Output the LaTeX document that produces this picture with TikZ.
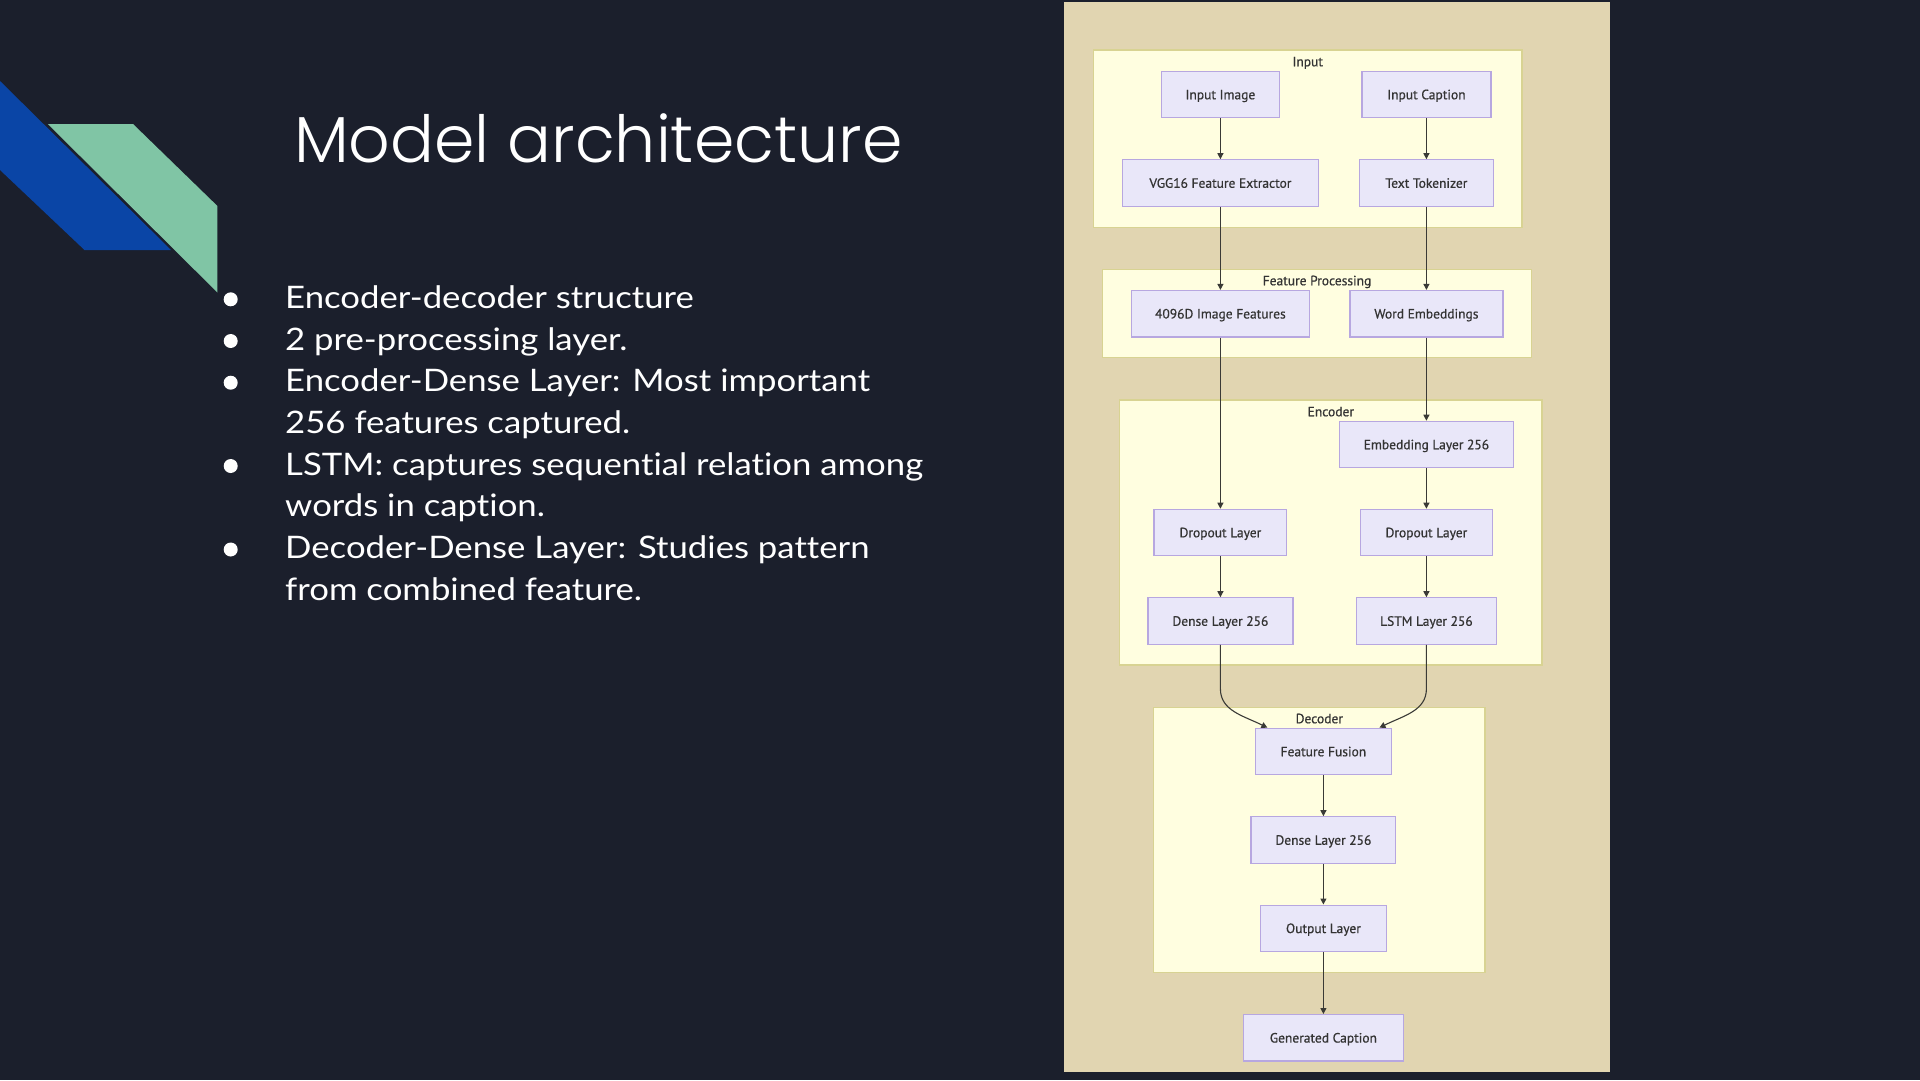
\documentclass[tikz,border=0pt]{standalone}
\usepackage{fontspec}
\setmainfont{Lato}
\newfontfamily\bodyfont{Lato}[FakeStretch=1.12, Ligatures=NoCommon]
\newfontfamily\titlefont{Poppins}[UprightFont={* Light}]
\newfontfamily\nodefont{PT Sans}[FakeBold=0.6]
\usetikzlibrary{arrows.meta,calc}
\definecolor{bg}{HTML}{1B1F2C}
\definecolor{decoblue}{HTML}{0A45A6}
\definecolor{decogreen}{HTML}{80C5A5}
\definecolor{panel}{HTML}{E1D5B1}
\definecolor{clfill}{HTML}{FFFEE0}
\definecolor{clstroke}{HTML}{D8D392}
\definecolor{nodefill}{HTML}{E9E7F9}
\definecolor{nodestroke}{HTML}{B7A7E0}
\definecolor{nodetext}{HTML}{333333}
\definecolor{edgecol}{HTML}{3A3A36}
\begin{document}
\begin{tikzpicture}[x=1pt,y=-1pt,
  box/.style={draw=nodestroke, fill=nodefill, line width=1.2pt, minimum height=46.4pt,
    inner sep=0pt, text height=9.5pt, text depth=0pt,
    font=\nodefont\fontsize{13.5}{16}\selectfont, text=nodetext},
  cluster/.style={draw=clstroke, fill=clfill, line width=1.5pt, inner sep=0pt},
  cllabel/.style={font=\nodefont\fontsize{13.5}{16}\selectfont, text=nodetext, inner sep=0pt,
    text height=9.5pt, text depth=0pt},
  edge/.style={draw=edgecol, line width=1.1pt, -{Triangle[length=6pt,width=6pt]}},
  bullettext/.style={anchor=base west, inner sep=0pt, text=white, font=\bodyfont\fontsize{31}{38}\selectfont},
  bulletdot/.style={fill=white}
]
\useasboundingbox (0,0) rectangle (1920,1080);
\fill[bg] (0,0) rectangle (1920,1080);

% decoration
\fill[decoblue] (0,81) -- (171,250) -- (84.5,250) -- (0,170) -- cycle;
\fill[decogreen] (47.8,124) -- (133,124) -- (217.4,206) -- (217.4,292.5) -- cycle;

% title
\node[anchor=base west, inner sep=0pt, text=white, font=\titlefont\fontsize{65}{78}\selectfont] (title) at (294,162.7) {Model architecture};

% bullets
\fill[bulletdot] (230.7,299.3) circle (7);
\fill[bulletdot] (230.7,341) circle (7);
\fill[bulletdot] (230.7,382.7) circle (7);
\fill[bulletdot] (230.7,466) circle (7);
\fill[bulletdot] (230.7,549.5) circle (7);
\node[bullettext] (b1) at (285,308.3) {Encoder-decoder structure};
\node[bullettext] (b2) at (285,350) {2 pre-processing layer.};
\node[bullettext] (b3) at (285,391.7) {Encoder-Dense Layer: Most important};
\node[bullettext] (b4) at (285,433.4) {256 features captured.};
\node[bullettext] (b5) at (285,475) {LSTM: captures sequential relation among};
\node[bullettext] (b6) at (285,516.8) {words in caption.};
\node[bullettext] (b7) at (285,558.5) {Decoder-Dense Layer: Studies pattern};
\node[bullettext] (b8) at (285,600.2) {from combined feature.};

% diagram panel
\fill[panel] (1064,2) rectangle (1610,1072);

% clusters
\node[cluster, minimum width=428.2pt, minimum height=177.3pt] (cin) at (1307.7,138.65) {};
\node[cluster, minimum width=428.9pt, minimum height=88.4pt] (cfp) at (1316.95,313.5) {};
\node[cluster, minimum width=422.4pt, minimum height=265pt] (cenc) at (1330.8,532.5) {};
\node[cluster, minimum width=331.4pt, minimum height=265.2pt] (cdec) at (1319.3,840.1) {};
\node[cllabel] (lin) at (1307.7,61.5) {Input};
\node[cllabel] (lfp) at (1317,280.5) {Feature Processing};
\node[cllabel] (lenc) at (1330.8,411.5) {Encoder};
\node[cllabel] (ldec) at (1319.3,718.5) {Decoder};

% nodes
\node[box, minimum width=118.6pt] (inimg) at (1220.4,94.5) {Input Image};
\node[box, minimum width=129pt] (incap) at (1426.4,94.5) {Input Caption};
\node[box, minimum width=196pt] (vgg) at (1220.4,183) {VGG16 Feature Extractor};
\node[box, minimum width=134.3pt] (tok) at (1426.4,183) {Text Tokenizer};
\node[box, minimum width=178.6pt] (feat) at (1220.4,313.7) {4096D Image Features};
\node[box, minimum width=153pt] (wemb) at (1426.4,313.7) {Word Embeddings};
\node[box, minimum width=174.6pt] (emb) at (1426.4,444.5) {Embedding Layer 256};
\node[box, minimum width=132.8pt] (dropl) at (1220.4,532.5) {Dropout Layer};
\node[box, minimum width=132.5pt] (dropr) at (1426.4,532.5) {Dropout Layer};
\node[box, minimum width=145pt] (densel) at (1220.4,621) {Dense Layer 256};
\node[box, minimum width=140pt] (lstm) at (1426.4,621) {LSTM Layer 256};
\node[box, minimum width=136pt] (fusion) at (1323.4,751.5) {Feature Fusion};
\node[box, minimum width=144.7pt] (dense2) at (1323.4,840) {Dense Layer 256};
\node[box, minimum width=126pt] (out) at (1323.4,928.3) {Output Layer};
\node[box, minimum width=160.4pt] (gen) at (1323.4,1037.8) {Generated Caption};

% connectors
\draw[edge] (inimg.south) -- (vgg.north);
\draw[edge] (incap.south) -- (tok.north);
\draw[edge] (vgg.south) -- (feat.north);
\draw[edge] (tok.south) -- (wemb.north);
\draw[edge] (feat.south) -- (dropl.north);
\draw[edge] (wemb.south) -- (emb.north);
\draw[edge] (emb.south) -- (dropr.north);
\draw[edge] (dropl.south) -- (densel.north);
\draw[edge] (dropr.south) -- (lstm.north);
\coordinate (fl) at ($(fusion.north)+(-56,0)$);
\coordinate (fr) at ($(fusion.north)+(56,0)$);
\draw[edge] (densel.south) -- ++(0,44) .. controls ++(0,22) and ++(-24,-12) .. (fl);
\draw[edge] (lstm.south) -- ++(0,44) .. controls ++(0,22) and ++(24,-12) .. (fr);
\draw[edge] (fusion.south) -- (dense2.north);
\draw[edge] (dense2.south) -- (out.north);
\draw[edge] (out.south) -- (gen.north);
\end{tikzpicture}
\end{document}
